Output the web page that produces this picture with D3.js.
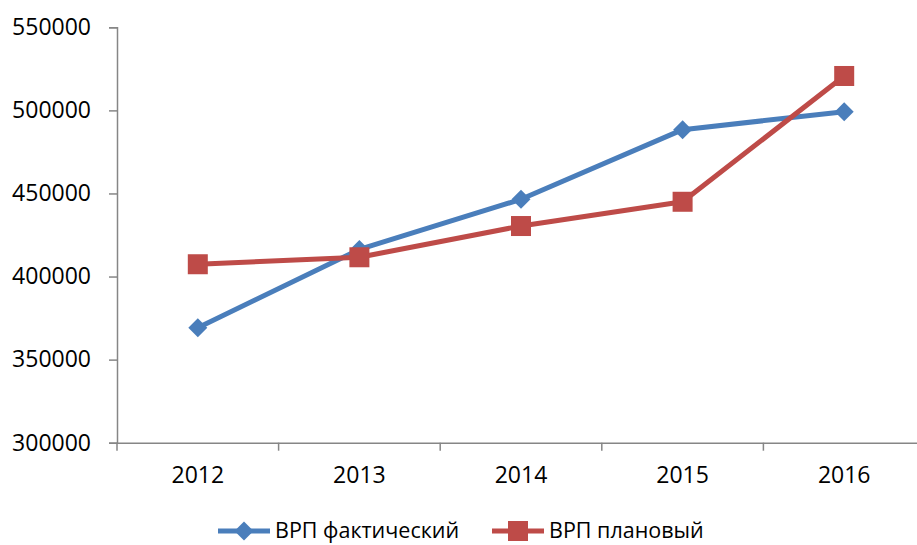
<!DOCTYPE html>
<html>
<head>
<meta charset="utf-8">
<script src="https://cdn.jsdelivr.net/npm/d3@7"></script>
<style>
  html, body { margin: 0; padding: 0; background: #fff; }
  svg { display: block; }
  text { font-family: "Open Sans", "DejaVu Sans", sans-serif; fill: #000; }
</style>
</head>
<body>
<svg id="chart" width="917" height="545"></svg>
<script>
// Годы и значения ВРП
const years = ["2012", "2013", "2014", "2015", "2016"];
const actual = [369200, 416300, 446500, 488400, 499200];
const planned = [407400, 411600, 430400, 445000, 520700];
const yTicks = [300000, 350000, 400000, 450000, 500000, 550000];
const seriesNames = ["ВРП фактический", "ВРП плановый"];

const W = 917, H = 545;
const plot = { left: 117, right: 925, top: 27.3, bottom: 442.7 };
const blue = "#4a7ebb", red = "#be4b48", axisColor = "#868686";

const svg = d3.select("#chart");

const x = d3.scaleBand().domain(years).range([plot.left, plot.right]);
const y = d3.scaleLinear().domain([300000, 550000]).range([plot.bottom, plot.top]);

// Ось Y
const yAxis = svg.append("g")
  .attr("transform", `translate(${plot.left},0)`)
  .call(d3.axisLeft(y).tickValues(yTicks).tickSize(8).tickPadding(18).tickFormat(d3.format("d")));
yAxis.select(".domain").attr("stroke", axisColor).attr("stroke-width", 1.5);
yAxis.selectAll(".tick line").attr("stroke", axisColor).attr("stroke-width", 1.5);
yAxis.selectAll("text").style("font-size", "23px").attr("fill", "#000");

// Ось X
const xAxis = svg.append("g")
  .attr("transform", `translate(0,${plot.bottom})`)
  .call(d3.axisBottom(x).tickSize(0).tickPadding(24));
xAxis.select(".domain").attr("stroke", axisColor).attr("stroke-width", 1.5);
xAxis.selectAll("text").style("font-size", "23px").attr("fill", "#000");
// Разделители категорий
const bounds = years.map(d => x(d)).concat([plot.right]);
xAxis.selectAll(".sep").data(bounds).enter().append("line")
  .attr("class", "sep")
  .attr("x1", d => d).attr("x2", d => d)
  .attr("y1", 0).attr("y2", 8)
  .attr("stroke", axisColor).attr("stroke-width", 1.5);

const cx = d => x(d) + x.bandwidth() / 2;
const line = d3.line().x(d => cx(d.year)).y(d => y(d.value));

const actualData = years.map((yr, i) => ({ year: yr, value: actual[i] }));
const plannedData = years.map((yr, i) => ({ year: yr, value: planned[i] }));

const diamond = d3.symbol().type(d3.symbolSquare).size(180);

function drawSeries(data, color, kind) {
  const g = svg.append("g");
  g.append("path").datum(data)
    .attr("d", line).attr("fill", "none")
    .attr("stroke", color).attr("stroke-width", 5).attr("stroke-linejoin", "round");
  if (kind === "diamond") {
    g.selectAll("path.m").data(data).enter().append("path").attr("class", "m")
      .attr("d", diamond)
      .attr("transform", d => `translate(${cx(d.year)},${y(d.value)}) rotate(45)`)
      .attr("fill", color);
  } else {
    g.selectAll("rect.m").data(data).enter().append("rect").attr("class", "m")
      .attr("x", d => cx(d.year) - 10).attr("y", d => y(d.value) - 10)
      .attr("width", 20).attr("height", 20)
      .attr("fill", color);
  }
}
drawSeries(actualData, blue, "diamond");
drawSeries(plannedData, red, "square");

// Легенда
const legend = svg.append("g").attr("transform", "translate(0,531)");
const items = [
  { name: seriesNames[0], color: blue, kind: "diamond", x0: 218 },
  { name: seriesNames[1], color: red, kind: "square", x0: 492 }
];
items.forEach(it => {
  const g = legend.append("g").attr("transform", `translate(${it.x0},0)`);
  g.append("line").attr("x1", 0).attr("x2", 52).attr("y1", 0).attr("y2", 0)
    .attr("stroke", it.color).attr("stroke-width", 5);
  if (it.kind === "diamond") {
    g.append("path").attr("d", diamond).attr("transform", "translate(26,0) rotate(45)").attr("fill", it.color);
  } else {
    g.append("rect").attr("x", 16).attr("y", -10).attr("width", 20).attr("height", 20).attr("fill", it.color);
  }
  g.append("text").attr("x", 57).attr("y", 7)
    .style("font-size", "21.5px").text(it.name);
});
</script>
</body>
</html>
